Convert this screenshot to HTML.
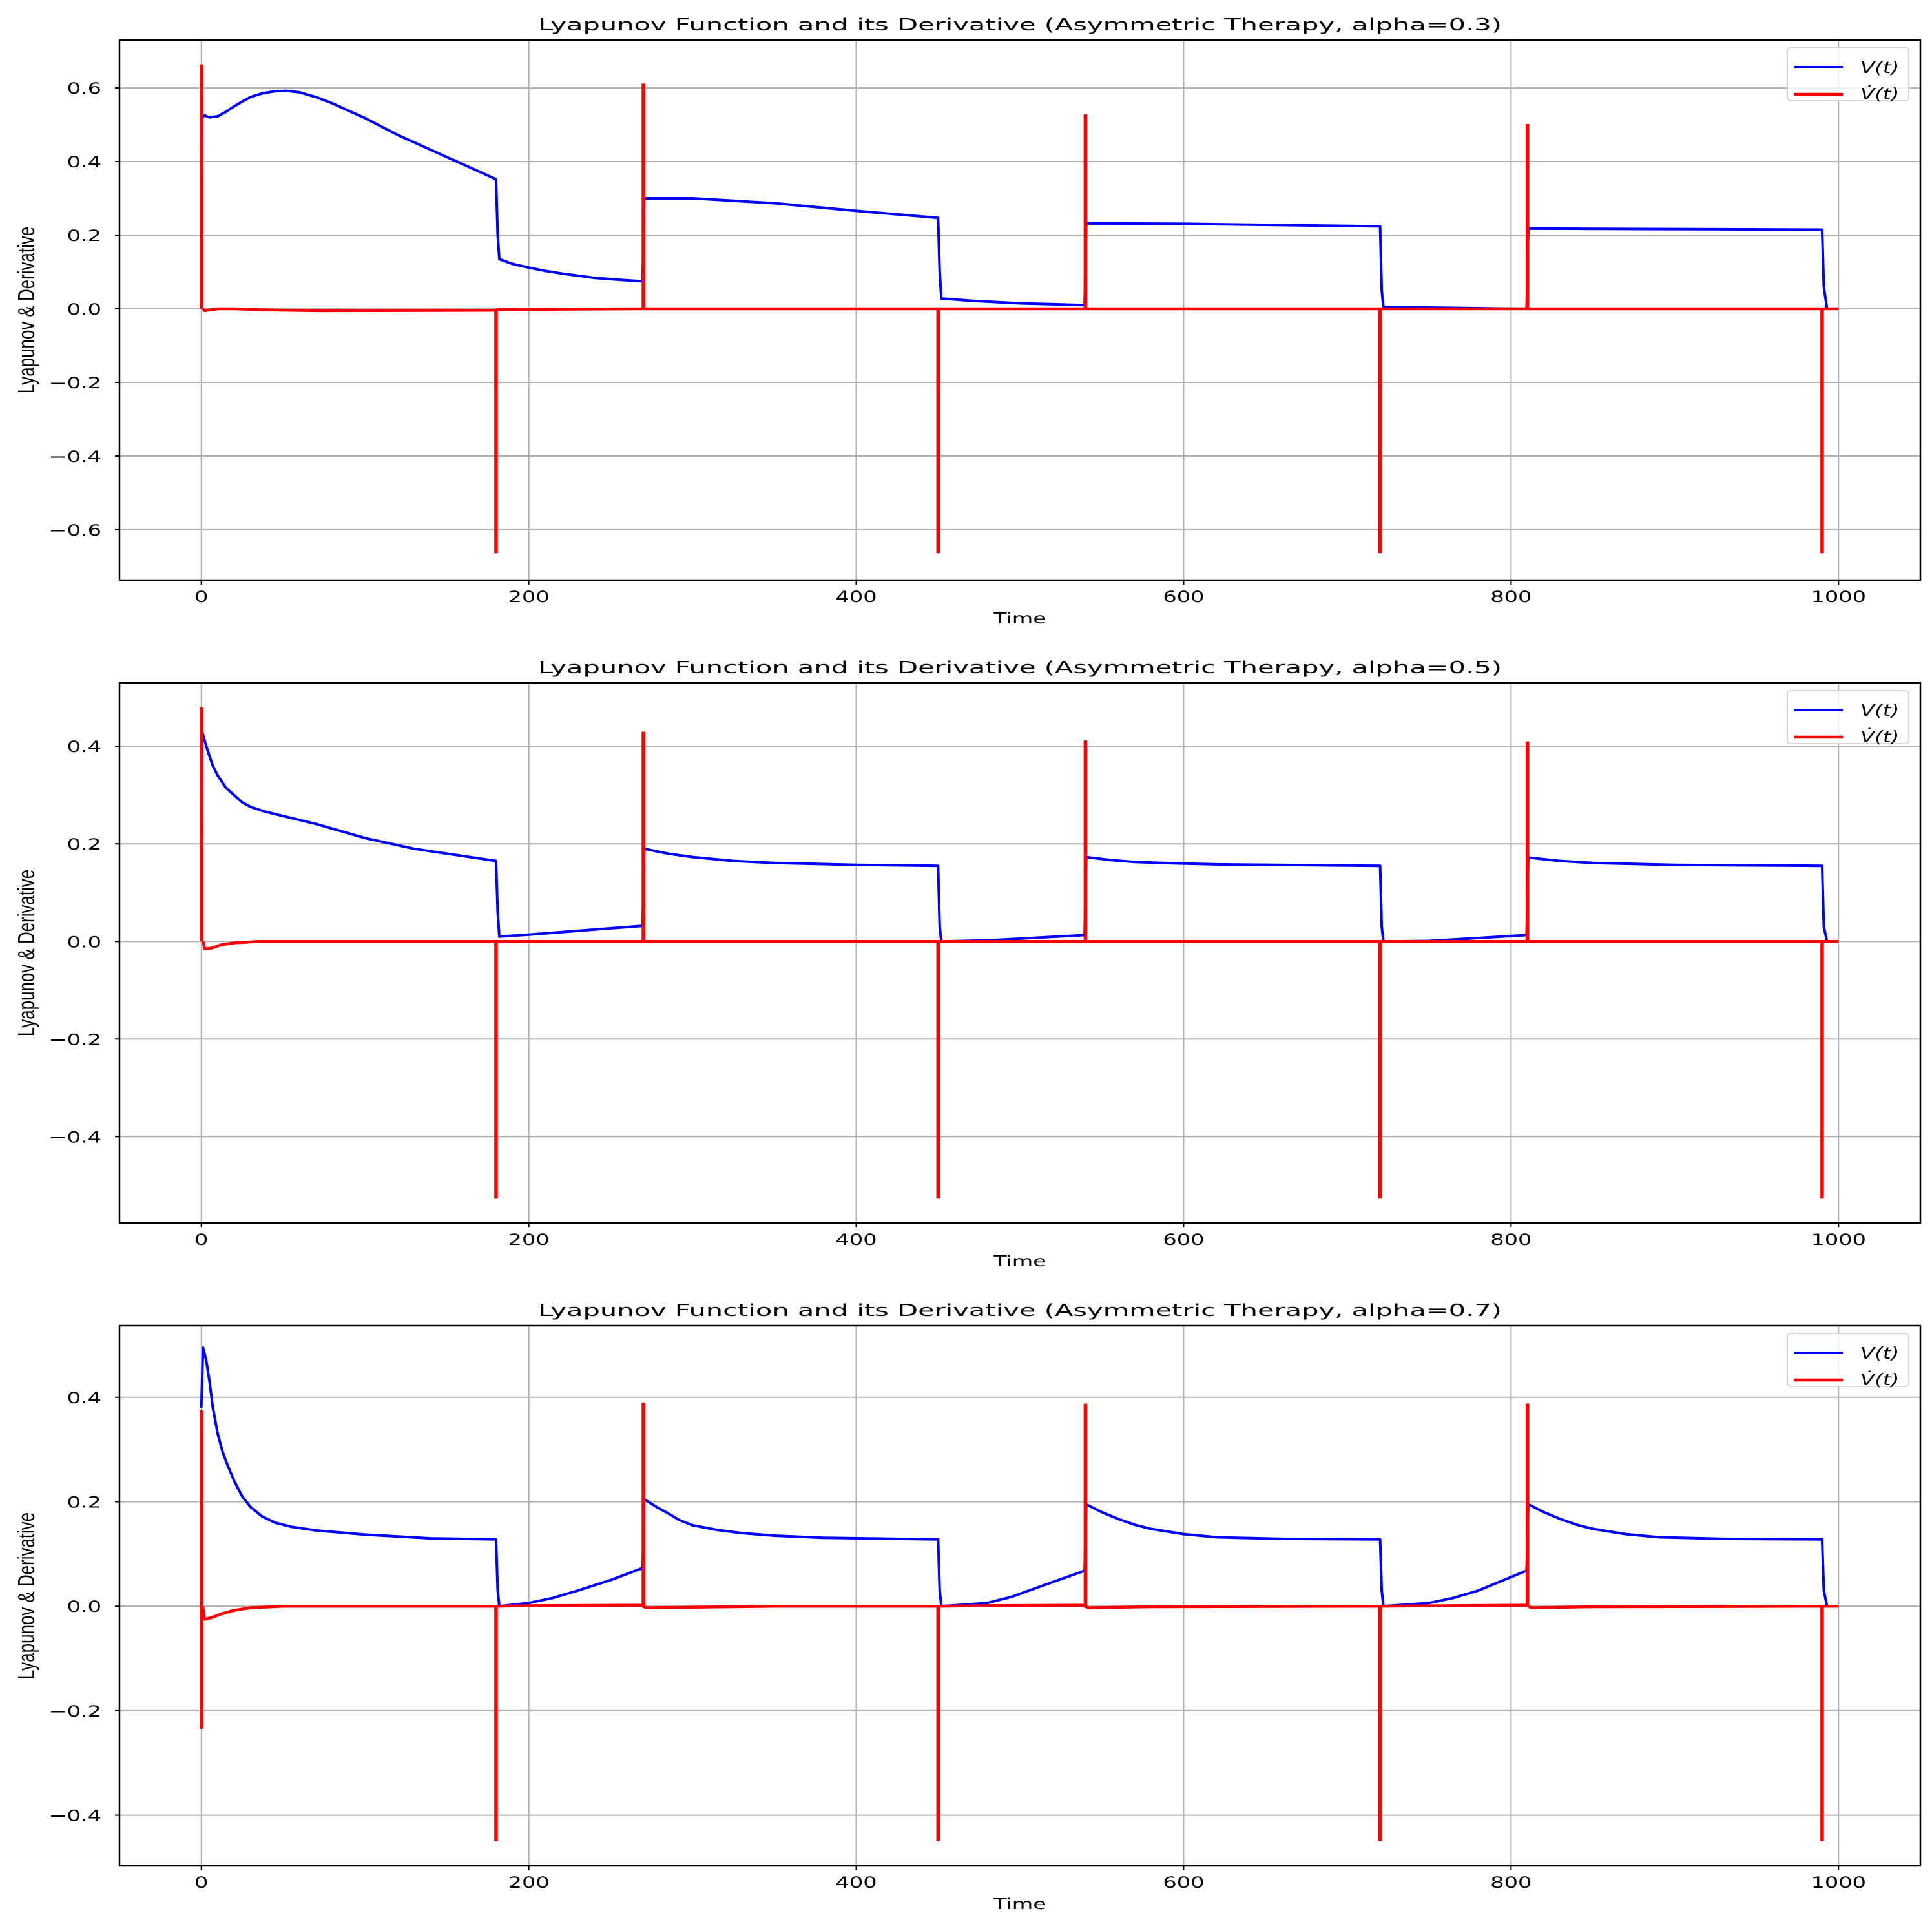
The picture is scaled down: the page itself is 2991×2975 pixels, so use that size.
<!DOCTYPE html>
<html><head><meta charset="utf-8"><style>
body{margin:0;background:#fff}
svg{display:block}
text{font-family:"DejaVu Sans","Liberation Sans",sans-serif;fill:#000}
</style></head><body>
<svg id="chart" width="2991" height="2975" viewBox="0 0 2991 2975" xmlns="http://www.w3.org/2000/svg"></svg>
<script>
// ---- data ----
const titles = ["Lyapunov Function and its Derivative (Asymmetric Therapy, alpha=0.3)",
 "Lyapunov Function and its Derivative (Asymmetric Therapy, alpha=0.5)",
 "Lyapunov Function and its Derivative (Asymmetric Therapy, alpha=0.7)"];
const xTicks = [0,200,400,600,800,1000];
const yTicks1 = [-0.6,-0.4,-0.2,0.0,0.2,0.4,0.6];
const yTicks2 = [-0.4,-0.2,0.0,0.2,0.4];
const yTicks3 = [-0.4,-0.2,0.0,0.2,0.4];
const yLims = [[-0.737,0.73],[-0.577,0.530],[-0.497,0.537]];
const V1 = [[0,0.28],[0.5,0.52],[2,0.525],[5,0.52],[10,0.523],[15,0.535],[20,0.55],[25,0.563],[30,0.575],[37,0.585],[45,0.591],[52,0.592],[60,0.588],[70,0.575],[80,0.558],[90,0.538],[100,0.518],[120,0.472],[140,0.432],[160,0.392],[180,0.352],[181,0.2],[182,0.135],[190,0.122],[200,0.112],[210,0.103],[220,0.096],[230,0.09],[240,0.084],[255,0.079],[268,0.075],[269.5,0.075],[270.5,0.3],[300,0.3],[350,0.287],[400,0.266],[450,0.247],[451,0.1],[452,0.028],[470,0.022],[500,0.015],[539.5,0.01],[540.5,0.232],[600,0.231],[720,0.224],[721,0.05],[722,0.005],[809.5,0.0],[810.5,0.218],[990,0.215],[991,0.06],[993,0.0]];
const D1 = [[1,0],[2,-0.005],[10,0.0],[20,0.0],[40,-0.003],[70,-0.005],[178,-0.004],[182,-0.002],[268,0],[1000,0]];
const up1 = [[0,0.664],[270,0.612],[540,0.528],[810,0.502]];
const dn1 = [[180,-0.664],[450,-0.664],[720,-0.664],[990,-0.664]];
const V2 = [[0,0.02],[0.5,0.43],[3,0.4],[5,0.38],[7,0.36],[10,0.34],[15,0.315],[20,0.3],[25,0.285],[30,0.276],[38,0.267],[45,0.261],[70,0.241],[100,0.212],[130,0.19],[180,0.165],[181,0.06],[182,0.01],[200,0.014],[269.5,0.032],[270.5,0.19],[285,0.18],[300,0.173],[325,0.165],[350,0.161],[400,0.157],[450,0.155],[451,0.03],[452,0.0],[480,0.002],[539.5,0.013],[540.5,0.173],[555,0.167],[570,0.163],[595,0.16],[620,0.158],[720,0.155],[721,0.03],[722,0.0],[750,0.001],[809.5,0.013],[810.5,0.172],[830,0.165],[850,0.161],[900,0.157],[990,0.155],[991,0.03],[993,0.0]];
const D2 = [[1,0],[2,-0.015],[6,-0.014],[12,-0.007],[20,-0.003],[35,0],[1000,0]];
const up2 = [[0,0.48],[270,0.43],[540,0.412],[810,0.41]];
const dn2 = [[180,-0.527],[450,-0.527],[720,-0.527],[990,-0.527]];
const V3 = [[0,0.38],[1,0.495],[3,0.47],[5,0.43],[7,0.38],[10,0.33],[13,0.295],[16,0.27],[20,0.24],[25,0.21],[30,0.19],[37,0.172],[45,0.16],[55,0.152],[70,0.145],[100,0.137],[140,0.13],[180,0.128],[181,0.03],[182,0.0],[200,0.006],[215,0.016],[230,0.03],[250,0.05],[269.5,0.073],[270.5,0.205],[278,0.19],[285,0.178],[292,0.165],[300,0.155],[315,0.146],[330,0.14],[350,0.135],[380,0.131],[450,0.128],[451,0.03],[452,0.0],[480,0.006],[495,0.018],[510,0.035],[539.5,0.068],[540.5,0.195],[550,0.18],[560,0.167],[570,0.156],[580,0.148],[600,0.138],[620,0.132],[660,0.129],[720,0.128],[721,0.03],[722,0.0],[750,0.006],[765,0.016],[780,0.03],[809.5,0.068],[810.5,0.195],[820,0.18],[830,0.167],[840,0.156],[850,0.148],[870,0.138],[890,0.132],[930,0.129],[990,0.128],[991,0.03],[993,0.0]];
const D3 = [[0.8,0],[2,-0.025],[6,-0.022],[12,-0.015],[20,-0.008],[30,-0.003],[50,0],[180,0],[200,0.001],[268,0.002],[272,-0.003],[300,-0.002],[350,0],[450,0],[480,0.001],[538,0.002],[542,-0.003],[580,-0.001],[720,0],[810,0.002],[812,-0.003],[850,-0.001],[1000,0]];
const up3 = [[0,0.375],[270,0.39],[540,0.388],[810,0.388]];
const dn3 = [[0,-0.235],[180,-0.45],[450,-0.45],[720,-0.45],[990,-0.45]];

const panels = [
 {V:V1,D:D1,up:up1,dn:dn1,yt:yTicks1,top:62,bot:898},
 {V:V2,D:D2,up:up2,dn:dn2,yt:yTicks2,top:1057,bot:1893},
 {V:V3,D:D3,up:up3,dn:dn3,yt:yTicks3,top:2052,bot:2888}];
const L=185,R=2973,XMIN=-50,XMAX=1050;
const svg=document.getElementById('chart');
const NS='http://www.w3.org/2000/svg';
function mk(tag,attrs,parent){const e=document.createElementNS(NS,tag);for(const k in attrs)e.setAttribute(k,attrs[k]);(parent||svg).appendChild(e);return e;}
function txt(parent,x,y,sxs,anchor,size,str,extra){
  const e=mk('text',Object.assign({x:0,y:0,'text-anchor':anchor,'font-size':size,transform:`translate(${x},${y}) scale(${sxs},1)`},extra||{}),parent);
  e.textContent=str;return e;
}
panels.forEach((p,i)=>{
  const g=mk('g',{});
  
  
  const [y0,y1]=yLims[i];
  const sx=t=>L+(t-XMIN)/(XMAX-XMIN)*(R-L);
  const sy=v=>p.bot-(v-y0)/(y1-y0)*(p.bot-p.top);
  xTicks.forEach(t=>{
    const ln=mk('line',{x1:sx(t),x2:sx(t),y1:p.top,y2:p.bot,stroke:'#b0b0b0','stroke-width':2},g);
    
    
    mk('line',{x1:sx(t),x2:sx(t),y1:p.bot,y2:p.bot+7,stroke:'#000','stroke-width':2},g);
    const tx=txt(g,sx(t),p.bot+34,1.4,'middle',24,String(t));
    
    
  });
  p.yt.forEach(v=>{
    const ln=mk('line',{x1:L,x2:R,y1:sy(v),y2:sy(v),stroke:'#b0b0b0','stroke-width':2},g);
    
    
    mk('line',{x1:L-7,x2:L,y1:sy(v),y2:sy(v),stroke:'#000','stroke-width':2},g);
    const tx=txt(g,L-28,sy(v)+9,1.4,'end',24,(v<-1e-9?'\u2212':'')+Math.abs(v).toFixed(1));
    
    
  });
  const cp=mk('clipPath',{id:'c'+i},g);mk('rect',{x:L,y:p.top,width:R-L,height:p.bot-p.top},cp);
  const pts=a=>a.map(q=>sx(q[0]).toFixed(1)+','+sy(q[1]).toFixed(1)).join(' ');
  const vl=mk('polyline',{points:pts(p.V),fill:'none',stroke:'#0000ff','stroke-width':4,'stroke-linejoin':'round','clip-path':'url(#c'+i+')'},g);
  
  
  const dl=mk('polyline',{points:pts(p.D),fill:'none',stroke:'#ff0000','stroke-width':4.5,'stroke-linejoin':'round'},g);
  
  
  p.up.concat(p.dn).forEach(s=>{
    const sp=mk('line',{x1:sx(s[0]),x2:sx(s[0]),y1:sy(0),y2:sy(s[1]),stroke:'#ff0000','stroke-width':5.5},g);
    
    
  });
  const fr=mk('rect',{x:L,y:p.top,width:R-L,height:p.bot-p.top,fill:'none',stroke:'#000','stroke-width':2.5},g);
  
  
  const ti=txt(g,(L+R)/2,p.top-15,1.6,'middle',26,titles[i]);
  
  
  const xl=txt(g,(L+R)/2,p.bot+67,1.45,'middle',23,'Time');
  
  
  const cy=(p.top+p.bot)/2;
  const yl=mk('text',{x:0,y:0,'text-anchor':'middle','font-size':36,transform:`translate(53,${cy}) rotate(-90) scale(0.72,1)`,style:'font-family:"Liberation Sans",sans-serif'},g);
  yl.textContent='Lyapunov & Derivative';
  
  
  const lg=mk('g',{},g);
  
  
  const lt=p.top+12;
  mk('rect',{x:2767,y:lt,width:188,height:82,rx:5,fill:'#fff','fill-opacity':0.8,stroke:'#d6d6d6','stroke-width':2},lg);
  mk('line',{x1:2778,x2:2853,y1:lt+30,y2:lt+30,stroke:'#0000ff','stroke-width':4},lg);
  mk('line',{x1:2778,x2:2853,y1:lt+72,y2:lt+72,stroke:'#ff0000','stroke-width':4.5},lg);
  const t1=txt(lg,2880,lt+39,1.3,'start',25,'V(t)',{'font-style':'italic'});
  
  
  const t2=txt(lg,2880,lt+80,1.3,'start',25,'V\u0307(t)',{'font-style':'italic'});
  
  
});
</script>
</body></html>
